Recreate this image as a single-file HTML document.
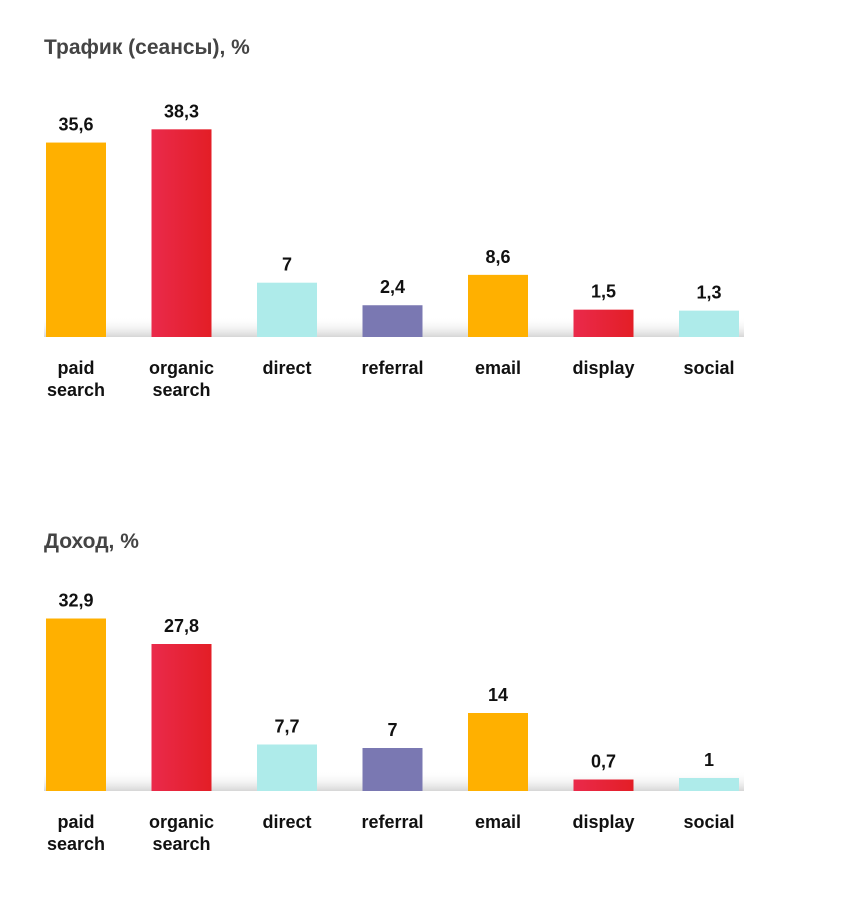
<!DOCTYPE html>
<html><head><meta charset="utf-8">
<style>
html,body{margin:0;padding:0;background:#fff;}
svg{display:block;font-family:"Liberation Sans",sans-serif;}
</style></head>
<body>
<svg id="c" width="845" height="898" viewBox="0 0 845 898">
<defs>
<linearGradient id="red" x1="0" x2="1" y1="0" y2="0"><stop offset="0" stop-color="#ea2a4b"/><stop offset="1" stop-color="#e31e26"/></linearGradient>
<linearGradient id="shadow" x1="0" x2="0" y1="0" y2="1"><stop offset="0" stop-color="#fff" stop-opacity="0"/><stop offset="1" stop-color="#d6d6d6"/></linearGradient>
</defs>
<text x="44" y="54" font-size="21" font-weight="bold" fill="#444">Трафик (сеансы), %</text>
<text x="44" y="548" font-size="21" font-weight="bold" fill="#444">Доход, %</text>
</svg>
<script>
const categories = [["paid","search"],["organic","search"],["direct"],["referral"],["email"],["display"],["social"]];
const colors = ["#ffb000","url(#red)","#aeebea","#7a78b2","#ffb000","url(#red)","#aeebea"];
const trafficValues = [35.6,38.3,7,2.4,8.6,1.5,1.3];
const trafficLabels = ["35,6","38,3","7","2,4","8,6","1,5","1,3"];
const revenueValues = [32.9,27.8,7.7,7,14,0.7,1];
const revenueLabels = ["32,9","27,8","7,7","7","14","0,7","1"];

const svg = document.getElementById('c');
const NS = "http://www.w3.org/2000/svg";
function mk(tag, attrs){const e=document.createElementNS(NS,tag);for(const k in attrs)e.setAttribute(k,attrs[k]);svg.appendChild(e);return e;}
function xPos(i){return 46 + i*105.5;}
function drawChart(values, labels, baseY, offset, scale, prefix){
  const sh = mk('rect',{x:44,y:baseY-20,width:700,height:20,fill:'url(#shadow)'});
  
  
  values.forEach((v,i)=>{
    const h = offset + scale*v;
    const x = xPos(i);
    const r = mk('rect',{x:x,y:baseY-h,width:60,height:h,fill:colors[i]});
    
    
    const t = mk('text',{x:x+30,y:baseY-h-12,'text-anchor':'middle','font-size':'18','font-weight':'bold',fill:'#111'});
    t.textContent = labels[i];
    
    
    categories[i].forEach((w,j)=>{
      const c = mk('text',{x:x+30,y:baseY+37+j*22,'text-anchor':'middle','font-size':'18','font-weight':'bold',fill:'#111'});
      c.textContent = w;
      
      
    });
  });
}
drawChart(trafficValues, trafficLabels, 337, 20, 4.9, 'traffic');
drawChart(revenueValues, revenueLabels, 791, 8, 5, 'revenue');
</script>
</body></html>
